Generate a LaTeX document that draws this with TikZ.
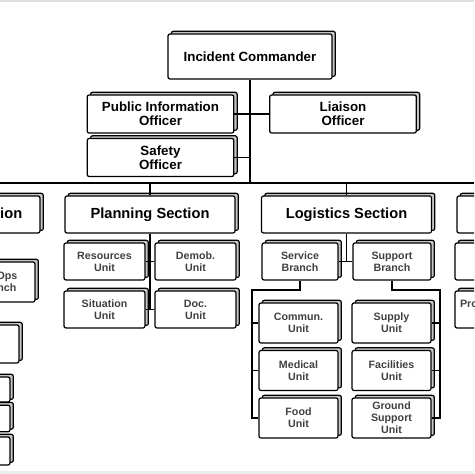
\documentclass[tikz,border=0pt]{standalone}
\usepackage{fontspec}
\setmainfont{Liberation Sans}
\usepackage{tikz}
\usetikzlibrary{shadows}

\begin{document}
\begin{tikzpicture}[x=0.75pt, y=-0.75pt,
	box/.style={draw=black, line width=0.9pt, fill=white, rounded corners=1.5pt, align=center, inner sep=1pt,
		general shadow={shadow xshift=2.5pt, shadow yshift=2pt, fill=gray!45, draw=black, line width=0.9pt}},
	ic/.style={box, font=\bfseries\fontsize{10}{11}\selectfont, minimum width=123pt, minimum height=33.75pt},
	off/.style={box, font=\bfseries\fontsize{10}{10.5}\selectfont, minimum width=110pt, minimum height=28.5pt},
	sect/.style={box, font=\bfseries\fontsize{11}{12}\selectfont, minimum width=127.5pt, minimum height=27.75pt},
	unit/.style={box, font=\bfseries\fontsize{8}{9}\selectfont, text=black!75, minimum width=60.75pt, minimum height=27.75pt},
	link/.style={line width=1.4pt}]
	\useasboundingbox (0,0) rectangle (474,474);
	\clip (0,0) rectangle (474,474);
	\fill[gray!25] (0,0) rectangle (474,2.5);
	\fill[gray!15] (0,470.5) rectangle (474,474);
	% command and staff
	\node[ic] (ic) at (250,56.5) {Incident Commander};
	\node[off] (pio) at (160.5,114) {Public Information\\Officer};
	\node[off] (lia) at (343,114) {Liaison\\Officer};
	\node[off] (saf) at (160.5,157.5) {Safety\\Officer};
	% sections
	\node[sect] (ops) at (-45,214.5) {Operations Section};
	\node[sect] (plan) at (150,214.5) {Planning Section};
	\node[sect] (log) at (346.5,214.5) {Logistics Section};
	\node[sect] (fin) at (542,214.5) {};
	% operations
	\node[unit, minimum width=55.5pt, minimum height=30pt] (air) at (-2,282) {Air Ops\\Branch};
	\node[unit, minimum width=60pt, minimum height=28.5pt] (br) at (-21,344) {};
	\node[unit, minimum width=52.5pt, minimum height=18.75pt] (div1) at (-25,389.5) {};
	\node[unit, minimum width=52.5pt, minimum height=20pt] (div2) at (-25,418.5) {};
	\node[unit, minimum width=52.5pt, minimum height=21pt] (div3) at (-25,451) {};
	% planning
	\node[unit] (res) at (104.5,261.5) {Resources\\Unit};
	\node[unit] (dem) at (195.5,261.5) {Demob.\\Unit};
	\node[unit] (sit) at (104.5,309.5) {Situation\\Unit};
	\node[unit] (doc) at (195.5,309.5) {Doc.\\Unit};
	% logistics
	\node[unit, minimum width=57pt] (svc) at (300,261.5) {Service\\Branch};
	\node[unit, minimum width=58.5pt] (sup) at (392,261.5) {Support\\Branch};
	\node[unit, minimum width=59.25pt, minimum height=30pt] (comm) at (298.5,323) {Commun.\\Unit};
	\node[unit, minimum width=59.25pt, minimum height=30pt] (med) at (298.5,370.5) {Medical\\Unit};
	\node[unit, minimum width=59.25pt, minimum height=30pt] (food) at (298.5,418) {Food\\Unit};
	\node[unit, minimum width=59.25pt, minimum height=30pt] (supply) at (391.5,323) {Supply\\Unit};
	\node[unit, minimum width=59.25pt, minimum height=30pt] (fac) at (391.5,370.5) {Facilities\\Unit};
	\node[unit, minimum width=59.25pt, minimum height=30pt, inner sep=0pt] (gsu) at (391.5,418) {Ground\\Support\\Unit};
	% finance
	\node[unit, minimum width=57pt] (tu) at (493,261.5) {};
	\node[unit, minimum width=57pt] (pro) at (493,309.5) {Procurement\\Unit};
	% connectors
	\coordinate (busl) at (0,183);
	\coordinate (busr) at (474,183);
	\coordinate (svcl) at (252,290);
	\coordinate (supr) at (440,290);
	\draw[link] (ic.south) -- (ic.south |- busl);
	\draw[link] (pio.east) -- (lia.west);
	\draw[link] (saf.east) -- (saf.east -| ic.south);
	\draw[link] (busl) -- (busr);
	\foreach \s in {ops, plan, log, fin} {\draw[link] (\s.north |- busl) -- (\s.north);}
	\draw[link] (plan.south) -- (plan.south |- sit.east);
	\draw[link] (res.east) -- (dem.west); \draw[link] (sit.east) -- (doc.west);
	\draw[link] (log.south) -- (log.south |- svc.east);
	\draw[link] (svc.east) -- (sup.west);
	\draw[link] (svc.south) |- (svcl) -- (svcl |- food.west) -- (food.west);
	\foreach \u in {comm, med} {\draw[link] (svcl |- \u.west) -- (\u.west);}
	\draw[link] (sup.south) |- (supr) -- (supr |- gsu.east) -- (gsu.east);
	\foreach \u in {supply, fac} {\draw[link] (supr |- \u.east) -- (\u.east);}
\end{tikzpicture}
\end{document}
